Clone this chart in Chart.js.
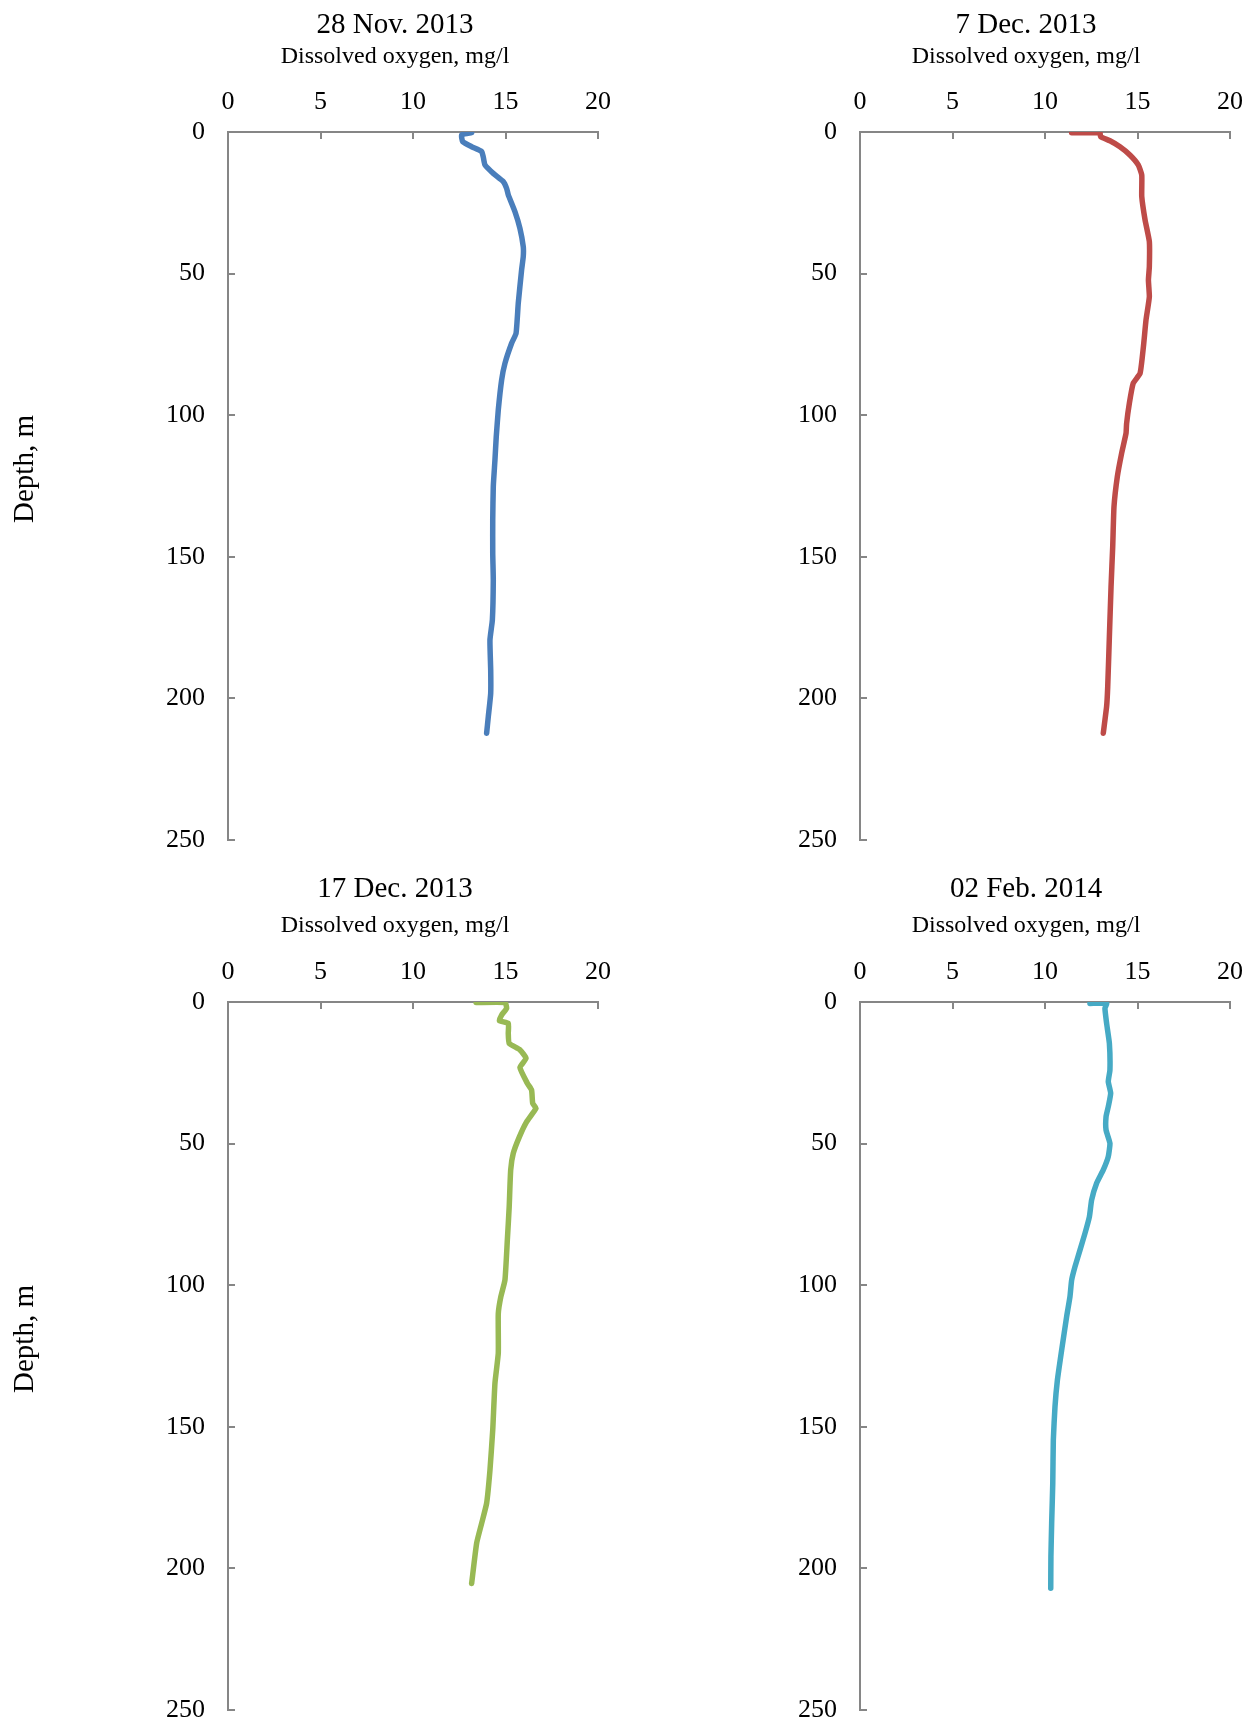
<!DOCTYPE html>
<html><head><meta charset="utf-8">
<script src="https://cdn.jsdelivr.net/npm/chart.js@4.4.1/dist/chart.umd.min.js"></script>
<style>
html,body{margin:0;padding:0;background:#fff;}
#wrap{position:relative;width:1255px;height:1726px;overflow:hidden;}
canvas{position:absolute;}
</style></head><body><div id="wrap">
<canvas id="c1" width="790" height="870" style="left:0px;top:0px;width:790px;height:870px"></canvas>
<canvas id="c2" width="458" height="870" style="left:797px;top:0px;width:458px;height:870px"></canvas>
<canvas id="c3" width="790" height="856" style="left:0px;top:870px;width:790px;height:856px"></canvas>
<canvas id="c4" width="458" height="856" style="left:797px;top:870px;width:458px;height:856px"></canvas>
</div>
<script>
// ---- data ----
const panelTitles = ['28 Nov. 2013', '7 Dec. 2013', '17 Dec. 2013', '02 Feb. 2014'];
const xAxisTitle = 'Dissolved oxygen, mg/l';
const yAxisTitle = 'Depth, m';
const xTicks = [0, 5, 10, 15, 20];
const yTicks = [0, 50, 100, 150, 200, 250];

const nov28Depth = [0.2, 1, 3.4, 5.2, 6.9, 8.9, 11.6, 14.6, 17.5, 19.9, 22.2, 28.1, 34, 40.5, 44, 48.7, 60.5, 71.1, 74.6, 81.7, 87.6, 98.2, 107.6, 115.8, 125.2, 137, 148.8, 158.2, 172.3, 179.4, 190, 198.2, 206.5, 212.3];
const nov28DO    = [13.17, 12.63, 12.69, 13.17, 13.71, 13.8, 13.89, 14.34, 14.88, 15.06, 15.15, 15.51, 15.78, 15.96, 15.96, 15.87, 15.69, 15.57, 15.33, 14.97, 14.79, 14.61, 14.5, 14.43, 14.34, 14.31, 14.31, 14.34, 14.29, 14.16, 14.2, 14.2, 14.07, 13.98];

const dec7Depth = [0.3, 0.3, 1.6, 3.1, 5.2, 8.1, 11.6, 15.2, 22.8, 31.1, 38.7, 47.6, 52.3, 58.2, 66.4, 75.8, 85.2, 88.7, 95.8, 103, 106.4, 113.5, 121.7, 132.3, 146.4, 160.6, 178.2, 195.9, 202.9, 212.3];
const dec7DO    = [11.44, 12.97, 13.0, 13.51, 14.05, 14.59, 15.04, 15.23, 15.23, 15.41, 15.64, 15.64, 15.59, 15.64, 15.46, 15.32, 15.14, 14.77, 14.56, 14.41, 14.38, 14.14, 13.91, 13.73, 13.66, 13.57, 13.48, 13.39, 13.33, 13.15];

const dec17Depth = [0.2, 0.2, 2.2, 4.6, 6.6, 7.5, 11.1, 14.6, 16.9, 19.9, 23.1, 28.7, 31.1, 35.8, 37.5, 42.3, 47.6, 53.4, 59.3, 72.3, 84, 98.2, 104, 110, 124, 134.6, 151.1, 165.3, 177, 184.1, 191.1, 205.3];
const dec17DO    = [13.41, 14.97, 15.06, 14.79, 14.67, 15.15, 15.15, 15.2, 15.78, 16.11, 15.78, 16.18, 16.41, 16.47, 16.65, 16.14, 15.75, 15.42, 15.28, 15.2, 15.1, 14.97, 14.75, 14.61, 14.61, 14.43, 14.31, 14.16, 13.98, 13.71, 13.44, 13.17];

const feb2Depth = [0.5, 0.5, 2.2, 7.5, 14.6, 24, 28.1, 32.2, 37, 40.5, 45.2, 49.9, 54.6, 59.3, 64, 69.9, 75.8, 81.7, 87.6, 93.5, 98.2, 104, 111.1, 122.9, 133.5, 142.9, 154.7, 169.9, 184.1, 195.9, 207];
const feb2DO    = [12.43, 13.33, 13.24, 13.33, 13.48, 13.51, 13.42, 13.55, 13.42, 13.3, 13.3, 13.51, 13.42, 13.15, 12.79, 12.52, 12.4, 12.16, 11.89, 11.62, 11.44, 11.35, 11.17, 10.9, 10.67, 10.54, 10.45, 10.42, 10.36, 10.32, 10.31];

// ---- style ----
const FONT = "'Liberation Serif', 'Times New Roman', serif";
const AXIS_COLOR = '#868686';
const CHART_TOP = 132;
const TITLE_SIZE = 29, SUB_SIZE = 24, TICK_SIZE = 26, DEPTH_SIZE = 29;

const innerTicks = {
  id: 'innerTicks',
  beforeDatasetsDraw(chart) {
    const ctx = chart.ctx, xs = chart.scales.x, ys = chart.scales.y;
    const len = 7;
    ctx.save();
    ctx.strokeStyle = AXIS_COLOR;
    ctx.lineWidth = 2;
    ctx.beginPath();
    xs.ticks.forEach(t => {
      const px = Math.round(xs.getPixelForValue(t.value));
      ctx.moveTo(px, ys.top);
      ctx.lineTo(px, ys.top + len);
    });
    ys.ticks.forEach(t => {
      const py = Math.round(ys.getPixelForValue(t.value));
      ctx.moveTo(xs.left, py);
      ctx.lineTo(xs.left + len, py);
    });
    ctx.stroke();
    ctx.restore();
  }
};

const depthLabel = {
  id: 'depthLabel',
  afterDraw(chart, args, opts) {
    if (!opts.show) return;
    const ctx = chart.ctx, ca = chart.chartArea;
    ctx.save();
    ctx.translate(25, (ca.top + ca.bottom) / 2 - 17);
    ctx.rotate(-Math.PI / 2);
    ctx.textAlign = 'center';
    ctx.textBaseline = 'middle';
    ctx.font = DEPTH_SIZE + 'px ' + FONT;
    ctx.fillStyle = '#000';
    ctx.fillText(yAxisTitle, 0, 0);
    ctx.restore();
  }
};

function makeChart(id, title, depth, vals, color, cfg) {
  const pts = depth.map((d, i) => ({ x: vals[i], y: d }));
  const xAxisH = CHART_TOP - (cfg.tPad + TITLE_SIZE * 1.2) - (cfg.sPad + SUB_SIZE * 1.2);
  new Chart(document.getElementById(id), {
    type: 'scatter',
    data: { datasets: [{
      data: pts, showLine: true, borderColor: color, backgroundColor: color,
      xAxisID: 'x', yAxisID: 'y',
      borderWidth: 5.5, pointRadius: 0, tension: 0.15,
      borderCapStyle: 'round', borderJoinStyle: 'round'
    }]},
    options: {
      responsive: false, animation: false, devicePixelRatio: 1,
      layout: { padding: { left: 0, right: 0, top: 0, bottom: cfg.padB } },
      plugins: {
        legend: { display: false }, tooltip: { enabled: false },
        depthLabel: { show: cfg.showY },
        title: { display: true, text: title, color: '#000',
          font: { family: FONT, size: TITLE_SIZE, weight: 'normal' },
          padding: { top: cfg.tPad, bottom: 0 } },
        subtitle: { display: true, text: xAxisTitle, color: '#000',
          font: { family: FONT, size: SUB_SIZE, weight: 'normal' },
          padding: { top: cfg.sPad, bottom: 0 } }
      },
      scales: {
        x: {
          type: 'linear', position: 'top', min: 0, max: 20,
          afterBuildTicks: s => { s.ticks = xTicks.map(v => ({ value: v })); },
          afterFit: s => { s.height = xAxisH; s.paddingLeft = 0; s.paddingRight = 0; },
          ticks: { color: '#000', font: { family: FONT, size: TICK_SIZE }, padding: 14.5, maxRotation: 0, autoSkip: false },
          grid: { drawOnChartArea: false, drawTicks: false },
          border: { display: true, color: AXIS_COLOR, width: 2 }
        },
        y: {
          type: 'linear', position: 'left', min: 0, max: 250, reverse: true,
          afterBuildTicks: s => { s.ticks = yTicks.map(v => ({ value: v })); },
          afterFit: s => { s.width = cfg.yW; s.paddingTop = 0; s.paddingBottom = 0; },
          ticks: { color: '#000', font: { family: FONT, size: TICK_SIZE }, padding: 23, autoSkip: false },
          grid: { drawOnChartArea: false, drawTicks: false },
          border: { display: true, color: AXIS_COLOR, width: 2 }
        },
        spacer: {
          type: 'linear', position: 'right', display: true,
          ticks: { display: false }, grid: { display: false, drawTicks: false },
          border: { display: false },
          afterFit: s => { s.width = cfg.rightW; s.paddingTop = 0; s.paddingBottom = 0; }
        }
      }
    },
    plugins: [innerTicks, depthLabel]
  });
}

makeChart('c1', panelTitles[0], nov28Depth, nov28DO, '#4A7EBB', { tPad: 7.8, sPad: 0.2, yW: 228, rightW: 192, padB: 30, showY: true });
makeChart('c2', panelTitles[1], dec7Depth, dec7DO, '#BE4B48', { tPad: 7.8, sPad: 0.2, yW: 63, rightW: 25, padB: 30, showY: false });
makeChart('c3', panelTitles[2], dec17Depth, dec17DO, '#98B954', { tPad: 1.8, sPad: 5.2, yW: 228, rightW: 192, padB: 16, showY: true });
makeChart('c4', panelTitles[3], feb2Depth, feb2DO, '#46AAC5', { tPad: 1.8, sPad: 5.2, yW: 63, rightW: 25, padB: 16, showY: false });
</script>
</body></html>
